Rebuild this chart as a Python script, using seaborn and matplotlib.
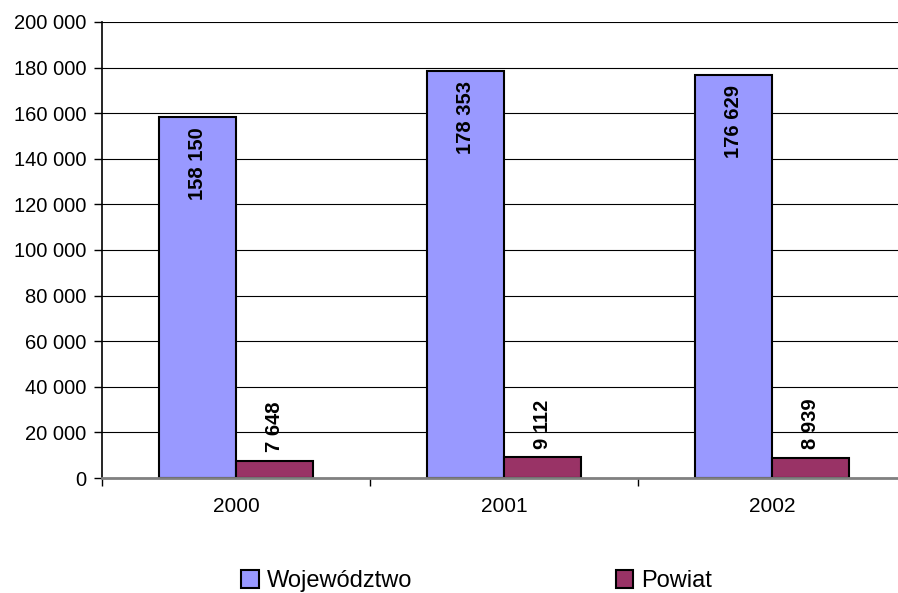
import pandas as pd
import matplotlib.pyplot as plt
import matplotlib.ticker as mticker
from matplotlib.patches import Patch
import seaborn as sns

# --- dane ---
YEARS = ['2000', '2001', '2002']
WOJEWODZTWO = [158150, 178353, 176629]
POWIAT = [7648, 9112, 8939]
SERIES = ['Województwo', 'Powiat']
COLORS = ['#9999FF', '#993366']
Y_TICKS = list(range(0, 200001, 20000))

OUTPUT_CHART = 'out.png'


def fmt_pl(v, pos=None):
    return f"{int(v):,}".replace(',', ' ')


def build_frame():
    rows = []
    for year, w, p in zip(YEARS, WOJEWODZTWO, POWIAT):
        rows.append({'Rok': year, 'Seria': SERIES[0], 'Wartosc': w})
        rows.append({'Rok': year, 'Seria': SERIES[1], 'Wartosc': p})
    return pd.DataFrame(rows)


def generate_chart(df):
    sns.set_style('white')
    plt.rcParams['font.family'] = ['Liberation Sans', 'DejaVu Sans']
    plt.rcParams['text.color'] = 'black'
    plt.rcParams['xtick.color'] = 'black'
    plt.rcParams['ytick.color'] = 'black'

    fig = plt.figure(figsize=(8.98, 5.93), dpi=100)
    ax = fig.add_axes([102 / 898, 1 - 478 / 593, 804 / 898, 456 / 593])

    sns.barplot(
        data=df, x='Rok', y='Wartosc', hue='Seria',
        hue_order=SERIES, palette=COLORS, width=0.575,
        edgecolor='black', linewidth=1.5, saturation=1,
        legend=False, ax=ax,
    )

    ax.set_xlim(-0.5, 2.5)
    ax.set_ylim(0, 200000)
    ax.set_yticks(Y_TICKS)
    ax.yaxis.set_major_formatter(mticker.FuncFormatter(fmt_pl))
    ax.set_xlabel('')
    ax.set_ylabel('')

    # siatka
    ax.set_axisbelow(True)
    ax.yaxis.grid(True, color='black', linewidth=0.8)
    ax.xaxis.grid(False)

    # osie
    for s in ['top', 'right']:
        ax.spines[s].set_visible(False)
    ax.spines['left'].set_color('black')
    ax.spines['left'].set_linewidth(1.2)
    ax.spines['bottom'].set_color('#808080')
    ax.spines['bottom'].set_linewidth(2)

    ax.tick_params(axis='y', which='major', direction='out', length=6,
                   width=1, labelsize=14.5, labelcolor='black', pad=5, left=True)
    ax.tick_params(axis='x', which='major', length=0, labelsize=15,
                   labelcolor='black', pad=14)
    ax.set_xticks([-0.5, 0.5, 1.5], minor=True)
    ax.tick_params(axis='x', which='minor', direction='out', length=6,
                   width=1, color='black', bottom=True)

    # etykiety wartości
    conts = ax.containers
    for bar, v in zip(conts[0], WOJEWODZTWO):
        ax.annotate(fmt_pl(v), (bar.get_x() + bar.get_width() / 2, bar.get_height()),
                    xytext=(0, -7), textcoords='offset points',
                    rotation=90, ha='center', va='top', color='black',
                    fontsize=14.5, fontweight='bold')
    for bar, v in zip(conts[1], POWIAT):
        ax.annotate(fmt_pl(v), (bar.get_x() + bar.get_width() / 2, bar.get_height()),
                    xytext=(0, 6), textcoords='offset points',
                    rotation=90, ha='center', va='bottom', color='black',
                    fontsize=14.5, fontweight='bold')

    handles = [Patch(facecolor=c, edgecolor='black', linewidth=1.5) for c in COLORS]
    fig.legend(handles, SERIES, loc='center', bbox_to_anchor=(0.531, 0.02),
               ncol=2, frameon=False, fontsize=17, handlelength=0.75,
               handleheight=0.75, handletextpad=0.35, columnspacing=8.6)

    fig.savefig(OUTPUT_CHART, dpi=100)
    plt.close(fig)


def main():
    df = build_frame()
    generate_chart(df)


if __name__ == '__main__':
    main()
